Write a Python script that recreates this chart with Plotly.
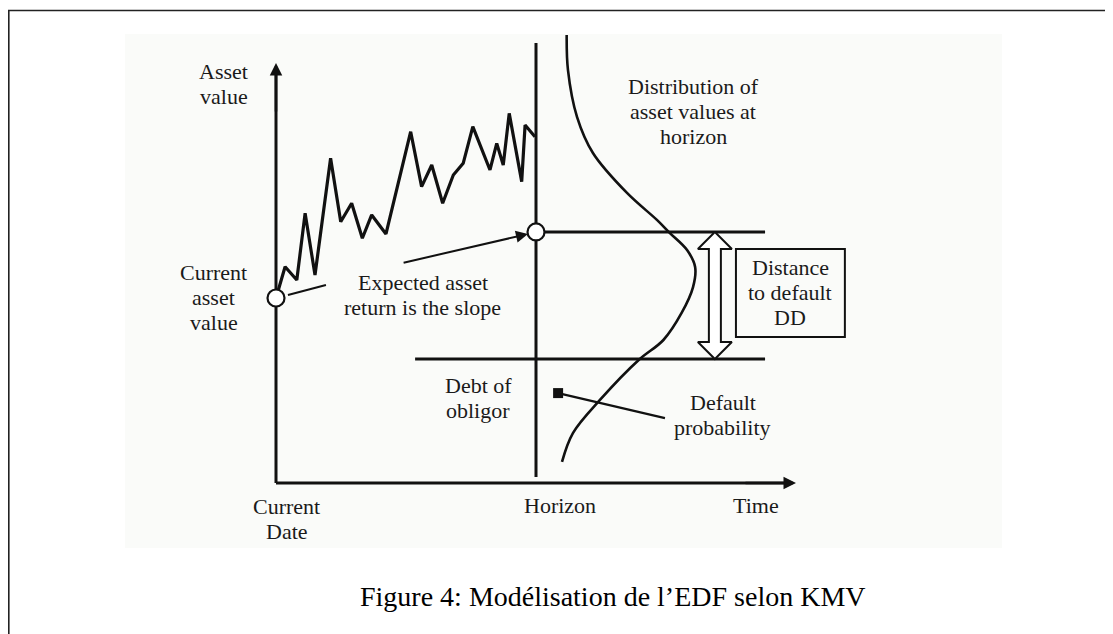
import plotly.graph_objects as go

# --- diagram data (time in horizon units, asset value with current value = 100) ---
walk_t = [0.0, 0.035, 0.080, 0.112, 0.150, 0.210, 0.249, 0.291, 0.332, 0.368, 0.423,
          0.518, 0.560, 0.599, 0.641, 0.682, 0.720, 0.757, 0.823, 0.849, 0.874,
          0.897, 0.945, 0.958, 0.996]
walk_v = [100.0, 116.9, 109.7, 145.8, 112.4, 175.5, 141.2, 151.2, 132.3, 144.9, 134.6,
          189.9, 160.2, 171.9, 151.2, 166.5, 172.8, 192.6, 169.2, 183.6, 171.9,
          199.8, 162.9, 193.5, 187.2]

dist_t = [1.118, 1.123, 1.158, 1.219, 1.350, 1.465, 1.515, 1.581, 1.612, 1.604,
          1.560, 1.490, 1.395, 1.246, 1.142, 1.100]
dist_v = [242.2, 223.2, 197.8, 178.4, 156.8, 142.2, 135.1, 125.9, 116.8, 105.9,
          91.9, 77.3, 66.5, 44.9, 27.0, 11.4]

current_value = 100.0
expected_value = 135.7
debt_value = 67.0
horizon = 1.0
time_end = 2.0

# page offset: the html body adds an 8px margin around the figure
OFF = 8
W, H = 1113 - OFF, 634 - OFF
X0, Y0 = 276 - OFF, 483 - OFF   # pixel position of t=0, V=0
PX_T, PX_V = 260, 1.85          # pixels per unit

xr = [(0 - X0) / PX_T, (W - X0) / PX_T]
yr = [(Y0 - H) / PX_V, Y0 / PX_V]


def px(x):
    return (x - OFF) / W


def py(y):
    return 1 - (y - OFF) / H


INK = "#111111"
FONT = dict(family="Liberation Serif, Times New Roman, serif", size=22, color="#1a1a1a")
LINE_GAP = 25 / PX_V

fig = go.Figure()

# distribution of asset values at horizon
fig.add_trace(go.Scatter(x=dist_t, y=dist_v, mode="lines", line_shape="spline",
                         line=dict(color=INK, width=2.6), hoverinfo="skip"))

# horizon vertical
fig.add_trace(go.Scatter(x=[horizon, horizon], y=[3.2, 237.8], mode="lines",
                         line=dict(color=INK, width=3), hoverinfo="skip"))
# expected value and debt levels
fig.add_trace(go.Scatter(x=[horizon, 1.881], y=[expected_value, expected_value], mode="lines",
                         line=dict(color=INK, width=3), hoverinfo="skip"))
fig.add_trace(go.Scatter(x=[0.535, 1.881], y=[debt_value, debt_value], mode="lines",
                         line=dict(color=INK, width=3), hoverinfo="skip"))

# axes
fig.add_trace(go.Scatter(x=[0, 0], y=[0, 222], mode="lines",
                         line=dict(color=INK, width=3), hoverinfo="skip"))
fig.add_trace(go.Scatter(x=[0, 1.97], y=[0, 0], mode="lines",
                         line=dict(color=INK, width=3), hoverinfo="skip"))

# asset value path
fig.add_trace(go.Scatter(x=walk_t, y=walk_v, mode="lines",
                         line=dict(color=INK, width=3.2), hoverinfo="skip"))

# connector to current asset value
fig.add_trace(go.Scatter(x=[0.046, 0.192], y=[101.6, 107.0], mode="lines",
                         line=dict(color=INK, width=2), hoverinfo="skip"))

# default probability pointer
fig.add_trace(go.Scatter(x=[1.085, 1.496], y=[48.6, 35.1], mode="lines",
                         line=dict(color=INK, width=2.2), hoverinfo="skip"))
fig.add_trace(go.Scatter(x=[1.085], y=[48.6], mode="markers",
                         marker=dict(symbol="square", size=10, color=INK), hoverinfo="skip"))

# circles: current and expected asset value
fig.add_trace(go.Scatter(x=[0, horizon], y=[current_value, expected_value], mode="markers",
                         marker=dict(symbol="circle", size=17, color="white",
                                     line=dict(color=INK, width=2.2)), hoverinfo="skip"))

# hollow double arrow for distance to default
dd_t = 1.688
sw, hw, hh = 6 / PX_T, 17 / PX_T, 17 / PX_V
arr_x = [dd_t, dd_t + hw, dd_t + sw, dd_t + sw, dd_t + hw, dd_t, dd_t - hw, dd_t - sw,
         dd_t - sw, dd_t - hw, dd_t]
arr_y = [expected_value, expected_value - hh, expected_value - hh, debt_value + hh,
         debt_value + hh, debt_value, debt_value + hh, debt_value + hh,
         expected_value - hh, expected_value - hh, expected_value]
fig.add_trace(go.Scatter(x=arr_x, y=arr_y, mode="lines", fill="toself", fillcolor="white",
                         line=dict(color=INK, width=2), hoverinfo="skip"))

ann = []
# axis arrows
ann.append(dict(x=0, y=227, ax=0, ay=200, xref="x", yref="y", axref="x", ayref="y",
                showarrow=True, arrowhead=2, arrowsize=1.0, arrowwidth=2.5, arrowcolor=INK, text=""))
ann.append(dict(x=2.0, y=0, ax=1.8, ay=0, xref="x", yref="y", axref="x", ayref="y",
                showarrow=True, arrowhead=2, arrowsize=1.0, arrowwidth=2.5, arrowcolor=INK, text=""))
# expected return arrow
ann.append(dict(x=0.969, y=134.6, ax=0.485, ay=118.9, xref="x", yref="y", axref="x", ayref="y",
                showarrow=True, arrowhead=2, arrowsize=1.2, arrowwidth=2, arrowcolor=INK, text=""))

# labels: lines, centre x, centre y of the block
labels = [
    (["Asset", "value"], -0.201, 215.5),
    (["Current", "asset", "value"], -0.240, 100.5),
    (["Expected asset", "return is the slope"], 0.565, 101.5),
    (["Distribution of", "asset values at", "horizon"], 1.604, 201.0),
    (["Distance", "to default", "DD"], 1.977, 103.2),
    (["Debt of", "obligor"], 0.777, 46.0),
    (["Default", "probability"], 1.719, 36.8),
    (["Current", "Date"], 0.042, -19.5),
    (["Horizon"], 1.092, -11.9),
    (["Time"], 1.846, -11.9),
]
for lines, tx, ty in labels:
    top = ty + LINE_GAP * (len(lines) - 1) / 2
    for i, line in enumerate(lines):
        ann.append(dict(x=tx, y=top - i * LINE_GAP, xref="x", yref="y", text=line,
                        showarrow=False, font=FONT, xanchor="center", yanchor="middle"))

ann.append(dict(x=px(613), y=py(596), xref="paper", yref="paper", showarrow=False,
                text="Figure 4: Modélisation de l’EDF selon KMV",
                font=dict(family="Liberation Serif, serif", size=28, color="#000000"),
                xanchor="center", yanchor="middle"))

shapes = [
    # light background of the embedded picture
    dict(type="rect", xref="paper", yref="paper", layer="below",
         x0=px(125), x1=px(1002), y0=py(548), y1=py(34),
         fillcolor="#fafbf9", line=dict(width=0)),
    # page frame
    dict(type="path", xref="paper", yref="paper",
         path=f"M {px(8.8)} 0 L {px(8.8)} {py(10.5)} L 1 {py(10.5)}",
         line=dict(color="#222222", width=1.6)),
    # distance to default box
    dict(type="rect", xref="x", yref="y", x0=1.769, x1=2.188, y0=78.9, y1=126.5,
         line=dict(color=INK, width=2), fillcolor="rgba(0,0,0,0)"),
]

fig.update_layout(
    width=W, height=H,
    margin=dict(l=0, r=0, t=0, b=0),
    paper_bgcolor="white", plot_bgcolor="rgba(0,0,0,0)",
    showlegend=False,
    xaxis=dict(range=xr, visible=False, fixedrange=True),
    yaxis=dict(range=yr, visible=False, fixedrange=True),
    annotations=ann, shapes=shapes,
)

fig.write_html("out.html")
